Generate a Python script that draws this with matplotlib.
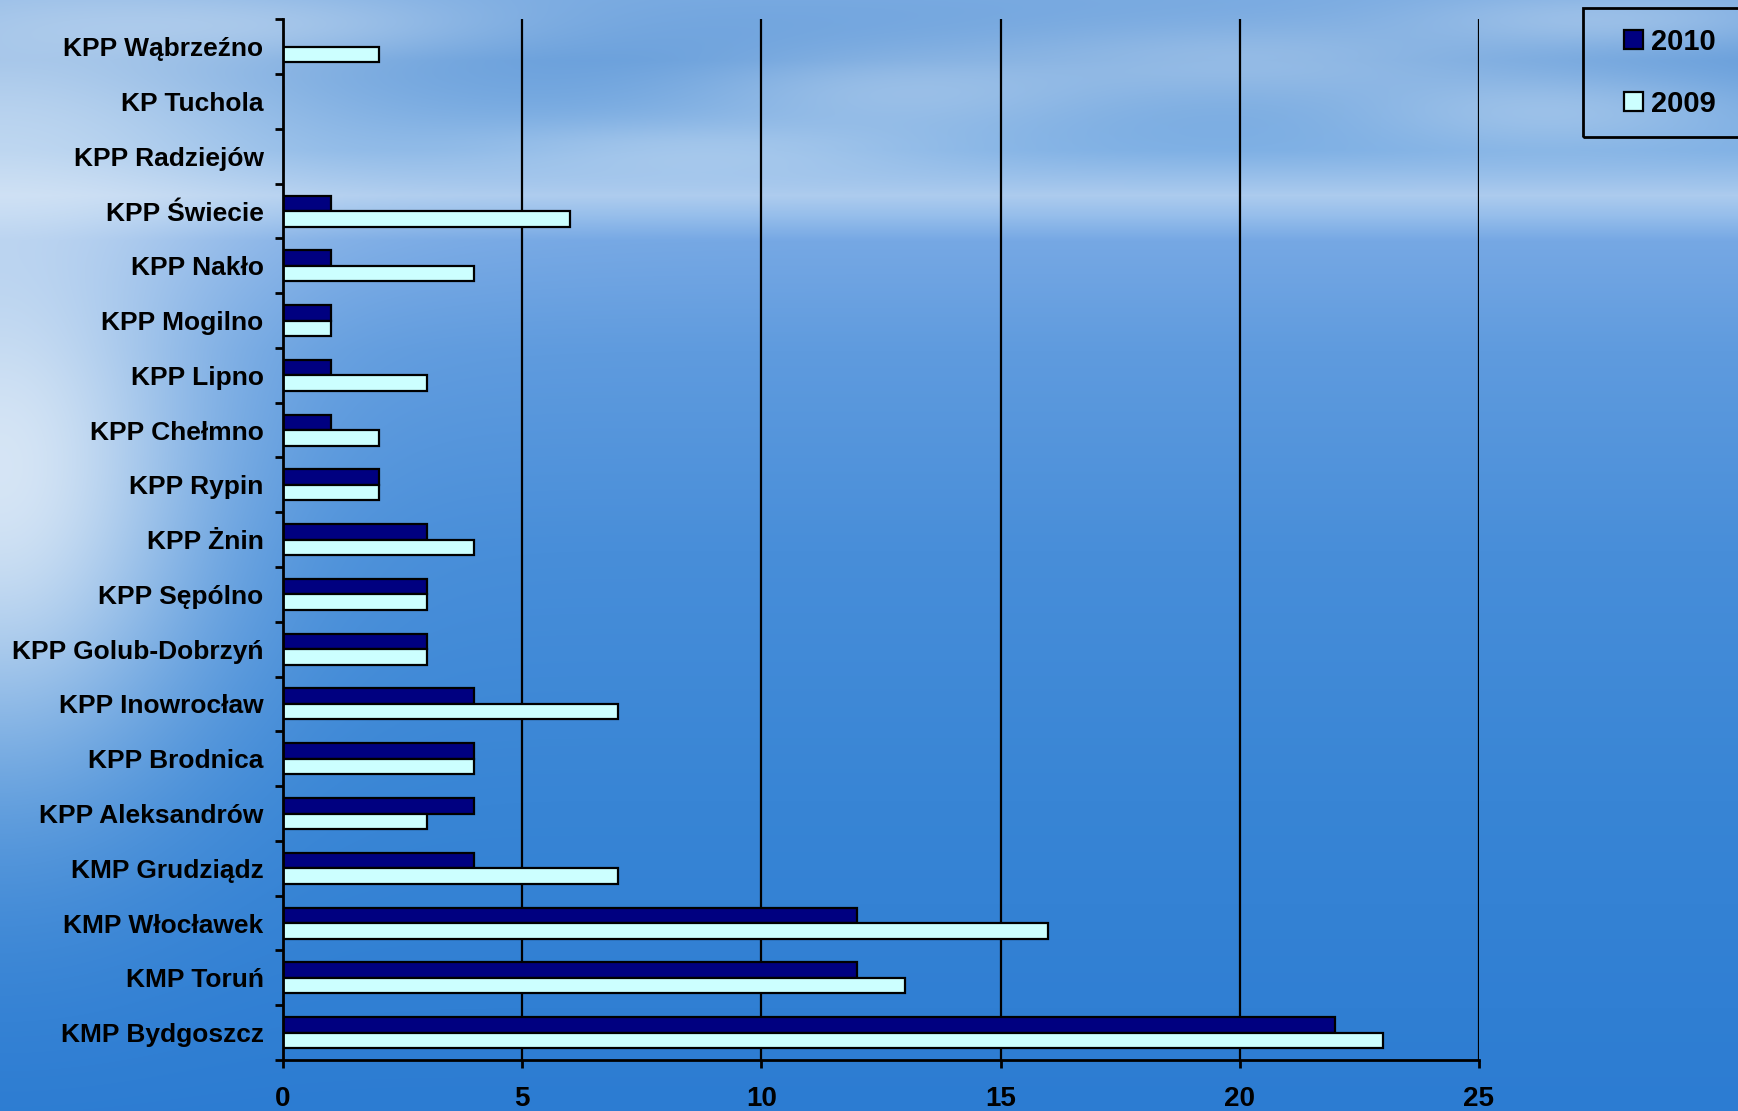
import numpy as np
import matplotlib
matplotlib.use("Agg")
import matplotlib.pyplot as plt
from matplotlib.patches import Patch, Rectangle

# ---- data (top to bottom as in the chart) ----
categories = ["KPP Wąbrzeźno", "KP Tuchola", "KPP Radziejów", "KPP Świecie", "KPP Nakło",
              "KPP Mogilno", "KPP Lipno", "KPP Chełmno", "KPP Rypin", "KPP Żnin",
              "KPP Sępólno", "KPP Golub-Dobrzyń", "KPP Inowrocław", "KPP Brodnica",
              "KPP Aleksandrów", "KMP Grudziądz", "KMP Włocławek", "KMP Toruń",
              "KMP Bydgoszcz"]
values_2010 = [0, 0, 0, 1, 1, 1, 1, 1, 2, 3, 3, 3, 4, 4, 4, 4, 12, 12, 22]
values_2009 = [2, 0, 0, 6, 4, 1, 3, 2, 2, 4, 3, 3, 7, 4, 3, 7, 16, 13, 23]
series_labels = ["2010", "2009"]
x_ticks = [0, 5, 10, 15, 20, 25]

W, H = 1738, 1111
fig = plt.figure(figsize=(W / 100, H / 100), dpi=100)

# ---- background (sky / sea picture imitation) ----
yy, xx = np.mgrid[0:H, 0:W].astype(float)
stops_y = [0, 60, 150, 195, 215, 240, 350, 550, 800, 1111]
stops_c = np.array([[118, 168, 224], [100, 156, 218], [125, 175, 228], [172, 203, 238],
                    [150, 190, 235], [118, 168, 228], [95, 155, 222], [72, 142, 217],
                    [56, 133, 213], [44, 124, 210]], float)
bg = np.zeros((H, W, 3))
for k in range(3):
    bg[..., k] = np.interp(yy[:, 0], stops_y, stops_c[:, k])[:, None]
white = np.array([228, 238, 248], float)


def blend(img, mask, strength):
    m = np.clip(mask * strength, 0, 1)[..., None]
    return img * (1 - m) + white * m


# bright glow on the left (sun reflection)
bg = blend(bg, np.exp(-((xx / 210.0) ** 2) - (((yy - 470) / 300.0) ** 2)), 0.9)
bg = blend(bg, np.exp(-((xx / 330.0) ** 2) - (((yy - 120) / 150.0) ** 2)), 0.5)
# soft clouds in the sky
clouds = [(250, 25, 260, 35), (900, 90, 220, 45), (1250, 60, 260, 40),
          (1550, 110, 200, 40), (700, 150, 250, 30), (1600, 20, 200, 30)]
for cx, cy, sx, sy in clouds:
    bg = blend(bg, np.exp(-(((xx - cx) / sx) ** 2) - (((yy - cy) / sy) ** 2)), 0.35)
bg_ax = fig.add_axes([0, 0, 1, 1], zorder=-5)
bg_ax.imshow(np.clip(bg, 0, 255).astype(np.uint8), aspect="auto", extent=[0, 1, 0, 1])
bg_ax.axis("off")

# ---- main axes ----
left, right = 283 / W, 1479 / W
bottom, top = 1 - 1060 / H, 1 - 19.3 / H
ax = fig.add_axes([left, bottom, right - left, top - bottom])
ax.set_facecolor("none")

n = len(categories)
pos = np.arange(n)
h = 0.283
ax.barh(pos - h / 2, values_2010, height=h, color="#000080", edgecolor="black",
        linewidth=1.6, label=series_labels[0], zorder=3)
ax.barh(pos + h / 2, values_2009, height=h, color="#CCFFFF", edgecolor="black",
        linewidth=1.6, label=series_labels[1], zorder=3)

ax.set_ylim(n - 0.5, -0.5)
ax.set_xlim(0, 25)

font = "Liberation Sans"
ax.set_yticks(pos)
ax.set_yticklabels(categories, fontsize=19, fontweight="bold", family=font)
ax.set_yticks(np.arange(-0.5, n, 1), minor=True)
ax.tick_params(axis="y", which="major", length=0, pad=14)
ax.tick_params(axis="y", which="minor", length=6, width=2, direction="out", color="black")

ax.set_xticks(x_ticks)
ax.set_xticklabels([str(t) for t in x_ticks], fontsize=20, fontweight="bold", family=font)
ax.tick_params(axis="x", length=6, width=2, direction="out", pad=13, color="black")

for t in x_ticks[1:]:
    ax.axvline(t, color="black", linewidth=1.6, zorder=2)

for s in ["top", "right"]:
    ax.spines[s].set_visible(False)
for s in ["left", "bottom"]:
    ax.spines[s].set_linewidth(2)
    ax.spines[s].set_color("black")
    ax.spines[s].set_zorder(4)

# ---- legend ----
handles = [Patch(facecolor="#000080", edgecolor="black", linewidth=1.6),
           Patch(facecolor="#CCFFFF", edgecolor="black", linewidth=1.6)]
leg = fig.legend(handles, series_labels, loc="center left",
                 bbox_to_anchor=(1624 / W, 1 - 73 / H), frameon=False,
                 prop={"family": font, "weight": "bold", "size": 21},
                 handlelength=0.64, handleheight=0.64, handletextpad=0.3,
                 labelspacing=1.17, borderpad=0, borderaxespad=0)
fig.add_artist(Rectangle((1583 / W, 1 - 137 / H), 200 / W, 129 / H,
                         transform=fig.transFigure, fill=False, edgecolor="black",
                         linewidth=2, clip_on=False))

fig.savefig("out.png", dpi=100)
